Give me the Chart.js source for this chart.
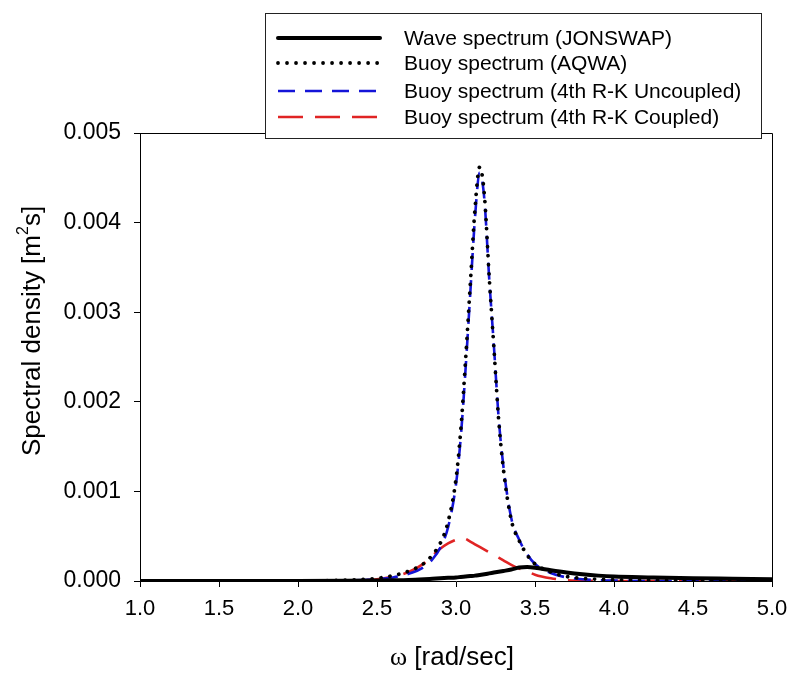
<!DOCTYPE html>
<html>
<head>
<meta charset="utf-8">
<title>Spectral density</title>
<script src="https://cdn.jsdelivr.net/npm/chart.js@4/dist/chart.umd.min.js"></script>
<style>
  html, body { margin: 0; padding: 0; background: #fff; }
  canvas { display: block; }
</style>
</head>
<body>
<canvas id="chart" width="790" height="677"></canvas>
<script>
// Angular frequency grid [rad/sec]
const omega = [1.0, 1.5, 2.0, 2.3, 2.5, 2.6, 2.7, 2.8, 2.85, 2.9, 2.95, 3.0, 3.03, 3.06, 3.09,
  3.12, 3.15, 3.18, 3.21, 3.24, 3.27, 3.3, 3.35, 3.4, 3.45, 3.5, 3.6, 3.7, 3.8, 3.9, 4.0,
  4.25, 4.5, 4.75, 5.0];

// Spectral densities [m^2 s]
const jonswap = [0, 0, 0, 0.000002, 0.000005, 0.000008, 0.000012, 0.00002, 0.000025, 0.00003,
  0.000035, 0.00004, 0.000045, 0.00005, 0.000055, 0.00006, 0.000068, 0.000076, 0.000085,
  0.000094, 0.000103, 0.000112, 0.000128, 0.00015, 0.000155, 0.000148, 0.00012, 0.000095,
  0.000075, 0.00006, 0.00005, 0.00004, 0.00003, 0.000025, 0.00002];

const aqwa = [null, 0, 0, 0.00001, 0.00003, 0.00006, 0.00011, 0.0002, 0.00029, 0.00042, 0.00066,
  0.00114, 0.00168, 0.00245, 0.0033, 0.00415, 0.00462, 0.0043, 0.0034, 0.0026, 0.0018,
  0.00125, 0.00068, 0.00045, 0.00029, 0.00019, 0.0001, 0.00005, 0.00003, 0.00002, 0.000015,
  0.00001, 0.000005, 0, 0];

const rkUncoupled = [null, 0, 0, 0.000005, 0.00002, 0.00004, 0.00008, 0.00016, 0.00024, 0.00037,
  0.0006, 0.00108, 0.0016, 0.00235, 0.0032, 0.00405, 0.00456, 0.00425, 0.00338, 0.00262,
  0.00182, 0.00128, 0.0007, 0.00046, 0.0003, 0.00019, 0.00009, 0.00004, 0.00002, 0.00001,
  0.000005, 0, 0, 0, 0];

const rkCoupled = [null, 0, 0, 0.000005, 0.00002, 0.00005, 0.0001, 0.0002, 0.00028, 0.00036,
  0.00042, 0.00046, 0.00048, 0.00047, 0.00044, 0.00041, 0.00038, 0.00035, 0.00032, 0.00029,
  0.00026, 0.00023, 0.00018, 0.00014, 0.00011, 0.00007, 0.00003, 0.00001, 0.000005, 0, 0,
  0, 0, 0, 0];

const seriesNames = [
  'Wave spectrum (JONSWAP)',
  'Buoy spectrum (AQWA)',
  'Buoy spectrum (4th R-K Uncoupled)',
  'Buoy spectrum (4th R-K Coupled)'
];

const xTickValues = [1.0, 1.5, 2.0, 2.5, 3.0, 3.5, 4.0, 4.5, 5.0];
const yTickValues = [0.000, 0.001, 0.002, 0.003, 0.004, 0.005];

const toPoints = (ys) => omega.map((x, i) => ({ x: x, y: ys[i] }));

const SANS = '"Liberation Sans", Arial, sans-serif';
const SERIF = '"Liberation Serif", "Times New Roman", serif';

// Closes the frame on top/right, writes the axis titles and the boxed legend
const frameAndLegend = {
  id: 'frameAndLegend',
  afterDraw(chart) {
    const ctx = chart.ctx;
    const a = chart.chartArea;
    ctx.save();

    ctx.strokeStyle = '#000';
    ctx.lineWidth = 1;
    ctx.setLineDash([]);
    ctx.beginPath();
    ctx.moveTo(a.left, Math.round(a.top) + 0.5);
    ctx.lineTo(Math.round(a.right) + 0.5, Math.round(a.top) + 0.5);
    ctx.lineTo(Math.round(a.right) + 0.5, a.bottom);
    ctx.stroke();

    ctx.fillStyle = '#000';

    // y-axis title, with a raised exponent
    ctx.save();
    ctx.translate(33, 331);
    ctx.rotate(-Math.PI / 2);
    ctx.textBaseline = 'middle';
    ctx.textAlign = 'left';
    const partA = 'Spectral density [m';
    const partB = '2';
    const partC = 's]';
    ctx.font = '26px ' + SANS;
    const wa = ctx.measureText(partA).width;
    const wc = ctx.measureText(partC).width;
    ctx.font = '16px ' + SANS;
    const wb = ctx.measureText(partB).width;
    const start = -(wa + wb + wc) / 2;
    ctx.font = '26px ' + SANS;
    ctx.fillText(partA, start, 0);
    ctx.font = '16px ' + SANS;
    ctx.fillText(partB, start + wa, -9);
    ctx.font = '26px ' + SANS;
    ctx.fillText(partC, start + wa + wb, 0);
    ctx.restore();

    // x-axis title
    const sym = '\u03C9';
    const rest = ' [rad/sec]';
    ctx.textBaseline = 'middle';
    ctx.textAlign = 'left';
    ctx.font = '26px ' + SERIF;
    const w1 = ctx.measureText(sym).width;
    ctx.font = '26px ' + SANS;
    const w2 = ctx.measureText(rest).width;
    const x0 = 452 - (w1 + w2) / 2;
    ctx.font = '26px ' + SERIF;
    ctx.fillText(sym, x0, 658);
    ctx.font = '26px ' + SANS;
    ctx.fillText(rest, x0 + w1, 658);

    // legend box
    const bx = 265.5, by = 13.5, bw = 496, bh = 125;
    ctx.fillStyle = '#fff';
    ctx.fillRect(bx, by, bw, bh);
    ctx.strokeStyle = '#222';
    ctx.lineWidth = 1;
    ctx.strokeRect(bx, by, bw, bh);

    const rows = [38, 63, 91, 117];
    chart.data.datasets.forEach((ds, i) => {
      const y = rows[i];
      ctx.save();
      ctx.strokeStyle = ds.borderColor;
      ctx.lineWidth = ds.borderWidth;
      ctx.lineCap = ds.borderCapStyle || 'butt';
      ctx.setLineDash(ds.borderDash || []);
      ctx.beginPath();
      ctx.moveTo(278, y);
      ctx.lineTo(380, y);
      ctx.stroke();
      ctx.restore();
      ctx.fillStyle = '#000';
      ctx.font = '21px ' + SANS;
      ctx.textAlign = 'left';
      ctx.textBaseline = 'middle';
      ctx.fillText(ds.label, 404, y + 1);
    });

    ctx.restore();
  }
};

const axisCommon = {
  type: 'linear',
  grid: {
    drawOnChartArea: false,
    drawTicks: true,
    tickLength: 6,
    tickWidth: 1,
    color: '#000'
  },
  border: { display: true, color: '#000', width: 1 }
};

new Chart(document.getElementById('chart'), {
  type: 'line',
  data: {
    datasets: [
      {
        label: seriesNames[0],
        data: toPoints(jonswap),
        borderColor: '#000',
        borderWidth: 4,
        borderCapStyle: 'round'
      },
      {
        label: seriesNames[1],
        data: toPoints(aqwa),
        borderColor: '#000',
        borderWidth: 3.8,
        borderDash: [0.01, 9],
        borderCapStyle: 'round'
      },
      {
        label: seriesNames[2],
        data: toPoints(rkUncoupled),
        borderColor: '#1414d8',
        borderWidth: 2.6,
        borderDash: [17, 10],
        borderCapStyle: 'butt'
      },
      {
        label: seriesNames[3],
        data: toPoints(rkCoupled),
        borderColor: '#e02424',
        borderWidth: 2.6,
        borderDash: [25, 12],
        borderCapStyle: 'butt'
      }
    ]
  },
  options: {
    responsive: false,
    animation: false,
    devicePixelRatio: 1,
    elements: {
      point: { radius: 0, hoverRadius: 0 },
      line: { fill: false, cubicInterpolationMode: 'monotone' }
    },
    layout: { padding: { top: 133, right: 18, left: 0, bottom: 0 } },
    plugins: {
      legend: { display: false },
      tooltip: { enabled: false },
      title: { display: false }
    },
    scales: {
      x: Object.assign({}, axisCommon, {
        min: 1,
        max: 5,
        afterBuildTicks: (scale) => { scale.ticks = xTickValues.map(v => ({ value: v })); },
        afterFit: (scale) => {
          scale.height = 96;
          scale.paddingLeft = 0;
          scale.paddingRight = 0;
        },
        ticks: {
          color: '#000',
          font: { family: SANS, size: 22 },
          padding: 9,
          maxRotation: 0,
          callback: (v) => Number(v).toFixed(1)
        }
      }),
      y: Object.assign({}, axisCommon, {
        min: 0,
        max: 0.005,
        afterBuildTicks: (scale) => { scale.ticks = yTickValues.map(v => ({ value: v })); },
        afterFit: (scale) => {
          scale.width = 140;
          scale.paddingTop = 0;
          scale.paddingBottom = 0;
        },
        ticks: {
          color: '#000',
          font: { family: SANS, size: 23 },
          padding: 13,
          callback: (v) => Number(v).toFixed(3)
        }
      })
    }
  },
  plugins: [frameAndLegend]
});
</script>
</body>
</html>
